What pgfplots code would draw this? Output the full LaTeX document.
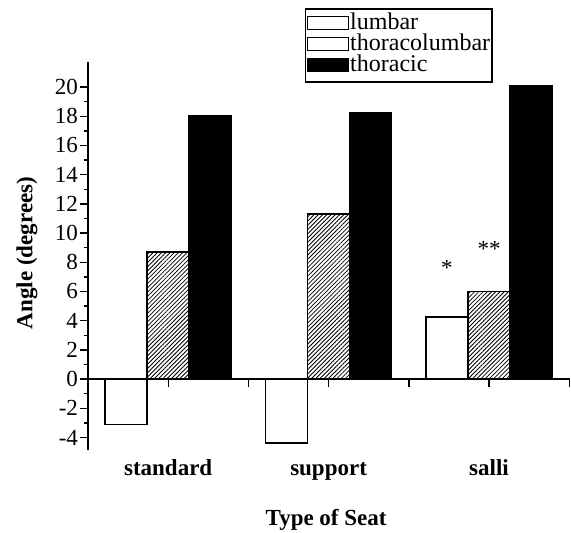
\documentclass[border=0pt]{standalone}
\usepackage{pgfplots}
\pgfplotsset{compat=1.18}
\usetikzlibrary{patterns.meta}
\usepackage{fontspec}
\setmainfont{Liberation Serif}
\begin{document}
\begin{tikzpicture}
\begin{axis}[
  at={(88pt,83pt)}, anchor=south west,
  scale only axis, width=482pt, height=387.8pt,
  xmin=-0.5, xmax=2.505, ymin=-4.86, ymax=21.7,
  axis y line=left, axis x line=middle,
  axis line style={-, line width=1.5pt},
  tick style={line width=1.4pt, black},
  tick align=outside,
  major tick length=7.5pt, minor tick length=4pt,
  xtick={0,0.5,1,1.5,2,2.5},
  xticklabels={standard,,support,,salli,},
  xticklabel style={font=\fontsize{23}{27}\selectfont\bfseries, anchor=base, yshift=-89pt},
  ytick={-4,-2,0,2,4,6,8,10,12,14,16,18,20},
  minor y tick num=1,
  yticklabel style={font=\fontsize{23}{27}\selectfont, xshift=1pt},
  /pgf/number format/assume math mode=true,
  every axis y label/.style={at={(axis description cs:-0.1266,0.508)}, anchor=center, rotate=90, font=\fontsize{23}{27}\selectfont\bfseries},
  every axis x label/.style={at={(axis description cs:0.494,-0.180)}, anchor=center, font=\fontsize{23}{27}\selectfont\bfseries},
  ylabel={Angle (degrees)},
  xlabel={Type of Seat},
  ybar, bar width=0.262,
  clip=false,
  legend style={at={(0.840,1.139)}, anchor=north east, draw=black, line width=1.5pt,
    font=\fontsize{24}{28}\selectfont, inner xsep=1pt, inner ysep=5pt,
    nodes={inner sep=1pt, text height=14pt, text depth=5pt}, row sep=0pt},
  legend cell align=left,
]
\addplot[bar shift=-0.262, draw=black, line width=1.6pt, fill=white,
  legend image code/.code={\draw[black, line width=1.5pt, fill=white] (0pt,-5pt) rectangle (41pt,8pt);}]
  coordinates {(0,-3.1) (1,-4.4) (2,4.25)};
\addlegendentry{lumbar}
\addplot[bar shift=0, draw=black, line width=1.6pt,
  pattern={Lines[angle=45, distance=3pt, line width=0.8pt]}, pattern color=black,
  legend image code/.code={\draw[black, line width=1.5pt, fill=white] (0pt,-5pt) rectangle (41pt,8pt);}]
  coordinates {(0,8.7) (1,11.3) (2,6.0)};
\addlegendentry{thoracolumbar}
\addplot[bar shift=0.262, draw=black, line width=1.6pt, fill=black,
  legend image code/.code={\draw[black, line width=1.5pt, fill=black] (0pt,-5pt) rectangle (41pt,8pt);}]
  coordinates {(0,18.0) (1,18.2) (2,20.1)};
\addlegendentry{thoracic}
\node[inner sep=0pt, font=\fontsize{23}{27}\selectfont] at (axis cs:1.738,7.62) {*};
\node[inner sep=0pt, font=\fontsize{23}{27}\selectfont] at (axis cs:2.0,8.92) {**};
\end{axis}
\pgfresetboundingbox
\path (0,0) rectangle (571pt,533pt);
\end{tikzpicture}
\end{document}
